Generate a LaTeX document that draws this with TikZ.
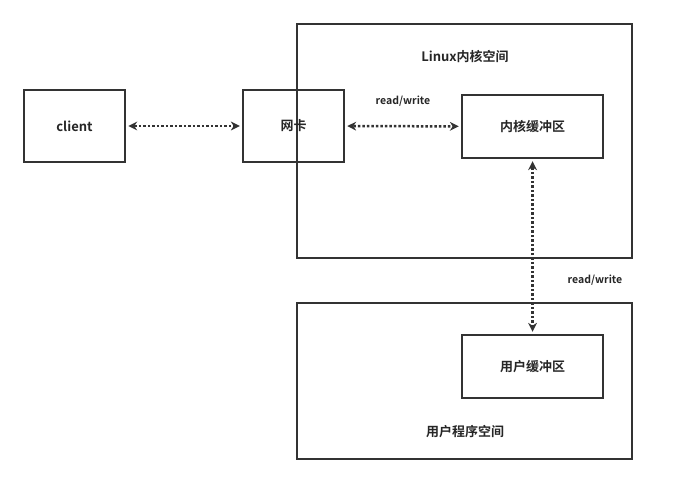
\documentclass[tikz,border=0pt]{standalone}
\usepackage{fontspec}
\setmainfont{Noto Sans CJK SC}[BoldFont={Noto Sans CJK SC Bold}]
\usetikzlibrary{arrows.meta}
\begin{document}
\begin{tikzpicture}[x=1pt,y=-1pt,
  box/.style={draw=black!80,line width=2.5pt,inner sep=0pt},
  lbl/.style={font=\fontsize{13}{15}\selectfont\bfseries,text=black!85},
  small/.style={font=\fontsize{10.5}{12}\selectfont\bfseries,text=black!85},
  arr/.style={draw=black!80,line width=2.5pt,dotted,{Stealth[length=9pt,width=9pt,line width=0pt]}-{Stealth[length=9pt,width=9pt,line width=0pt]},shorten <=2pt,shorten >=2pt}]
\useasboundingbox (0,0) rectangle (680,484);
\node[box,minimum width=335pt,minimum height=234pt] (linux) at (464.5,141) {};
\node[box,minimum width=335pt,minimum height=156pt] (user) at (464.5,381) {};
\node[lbl] (lt) at (465,57) {Linux内核空间};
\node[lbl] (ut) at (465,432) {用户程序空间};
\node[box,lbl,minimum width=101pt,minimum height=72pt] (client) at (74.5,126) {client};
\node[box,lbl,minimum width=101pt,minimum height=72pt] (nic) at (293.5,126) {网卡};
\node[box,lbl,minimum width=141pt,minimum height=63pt] (kb) at (532.5,126.5) {内核缓冲区};
\node[box,lbl,minimum width=141pt,minimum height=63pt] (ub) at (532.5,366.5) {用户缓冲区};
\draw[arr] (client) -- (nic);
\draw[arr] (nic) -- (kb);
\draw[arr] (kb) -- (ub);
\node[small] (rw1) at (403,101) {read/write};
\node[small] (rw2) at (595,280) {read/write};
\end{tikzpicture}
\end{document}
